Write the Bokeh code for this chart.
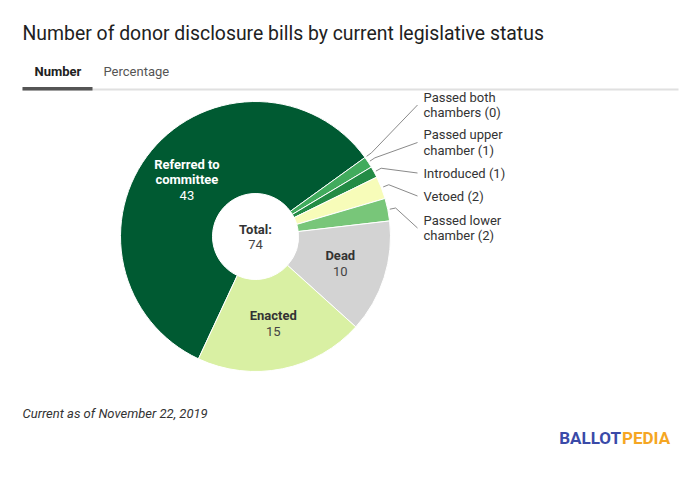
import math
from bokeh.plotting import figure
from bokeh.models import Range1d
from bokeh.core.properties import value
from bokeh.embed import file_html
from bokeh.resources import INLINE

# ---------------- data ----------------
title_text = "Number of donor disclosure bills by current legislative status"
tab_labels = ["Number", "Percentage"]
categories = ["Referred to committee", "Passed both chambers", "Passed upper chamber",
              "Introduced", "Vetoed", "Passed lower chamber", "Dead", "Enacted"]
counts = [43, 0, 1, 1, 2, 2, 10, 15]
colors = ["#005a32", "#006837", "#41ab5d", "#238b45", "#f7fcb9", "#78c679", "#d3d3d3", "#d9f0a3"]
inside_names = {"Referred to committee": ["Referred to", "committee"],
                "Dead": ["Dead"], "Enacted": ["Enacted"]}
outside_names = {"Passed both chambers": ["Passed both", "chambers"],
                 "Passed upper chamber": ["Passed upper", "chamber"],
                 "Introduced": ["Introduced"],
                 "Vetoed": ["Vetoed"],
                 "Passed lower chamber": ["Passed lower", "chamber"]}
total_label = "Total:"
footnote = "Current as of November 22, 2019"
brand = ["BALLOT", "PEDIA"]

# ---------------- layout ----------------
W, H = 684, 465
FONT = "Roboto"
CX, CY = 255, 236          # pie centre (page px)
R_OUT, R_IN = 135, 43
START_DEG = 205.0          # clockwise-from-top angle where first slice begins
OUT_LABEL_Y = {"Passed both chambers": 104.5, "Passed upper chamber": 142,
               "Introduced": 172.5, "Vetoed": 195.5, "Passed lower chamber": 227.5}

p = figure(width=W, height=H, output_backend="svg", toolbar_location=None,
           x_range=Range1d(0, W), y_range=Range1d(-H, 0),
           min_border=0, outline_line_color=None)
p.axis.visible = False
p.grid.visible = False
p.background_fill_color = "white"
p.border_fill_color = "white"


def Y(py):
    return -py


def txt(x, y, s, size=13, color="#333333", style="normal", align="left", base="middle"):
    p.text(x=[x], y=[Y(y)], text=[s], text_font=value(FONT), text_font_size=f"{size}px",
           text_color=color, text_font_style=style, text_align=align, text_baseline=base)


# title & tabs
txt(22, 33, title_text, size=19.4, color="#212121")
txt(34, 71, tab_labels[0], size=13, color="#212121", style="bold")
txt(103, 71, tab_labels[1], size=13, color="#555555")
p.quad(left=[22], right=[678], top=[Y(88)], bottom=[Y(90)], fill_color="#e0e0e0", line_color=None)
p.quad(left=[22], right=[92], top=[Y(86.5)], bottom=[Y(90)], fill_color="#555555", line_color=None)

# pie
total = sum(counts)
theta = START_DEG
mids = {}
for cat, c, col in zip(categories, counts, colors):
    span = c / total * 360.0
    a0, a1 = theta, theta + span
    mids[cat] = (a0 + a1) / 2.0
    if c > 0:
        p.annular_wedge(x=[CX], y=[Y(CY)], inner_radius=R_IN, outer_radius=R_OUT,
                        start_angle=[math.radians(90 - a0)], end_angle=[math.radians(90 - a1)],
                        direction="clock", fill_color=col, line_color="white", line_width=1)
    theta = a1

# inside labels
for cat, c in zip(categories, counts):
    if cat in inside_names:
        m = math.radians(mids[cat])
        rr = (R_IN + R_OUT) / 2.0
        lx = CX + rr * math.sin(m)
        ly = CY - rr * math.cos(m)
        lines = inside_names[cat]
        n = len(lines) + 1
        dark = cat == "Referred to committee"
        for i, s in enumerate(lines):
            yy = ly + (i - (n - 1) / 2.0) * 15.5
            txt(lx, yy, s, color="white" if dark else "#333333", style="bold", align="center")
        yy = ly + ((n - 1) - (n - 1) / 2.0) * 15.5
        txt(lx, yy, str(c), color="white" if dark else "#444444", align="center")

# centre total
txt(CX, 229, total_label, color="#333333", style="bold", align="center")
txt(CX, 244, str(total), color="#444444", align="center")

# outside labels with leader lines
for cat, c in zip(categories, counts):
    if cat in outside_names:
        m = math.radians(mids[cat])
        x0 = CX + (R_OUT + 2) * math.sin(m)
        y0 = CY - (R_OUT + 2) * math.cos(m)
        x1 = CX + (R_OUT + 8) * math.sin(m)
        y1 = CY - (R_OUT + 8) * math.cos(m)
        ty = OUT_LABEL_Y[cat]
        p.line(x=[x0, x1, 417], y=[Y(y0), Y(y1), Y(ty)], line_color="#8a8a8a", line_width=1)
        lines = list(outside_names[cat])
        lines[-1] = f"{lines[-1]} ({c})"
        n = len(lines)
        for i, s in enumerate(lines):
            txt(423, ty + (i - (n - 1) / 2.0) * 15.5, s, color="#333333")

# footer
txt(22, 413, footnote, size=13, color="#333333", style="italic")
txt(620.5, 437, brand[0], size=17, color="#3a4aa8", style="bold", align="right")
txt(621.5, 437, brand[1], size=17, color="#f5a623", style="bold", align="left")

open("out.html", "w").write(file_html(p, INLINE))
